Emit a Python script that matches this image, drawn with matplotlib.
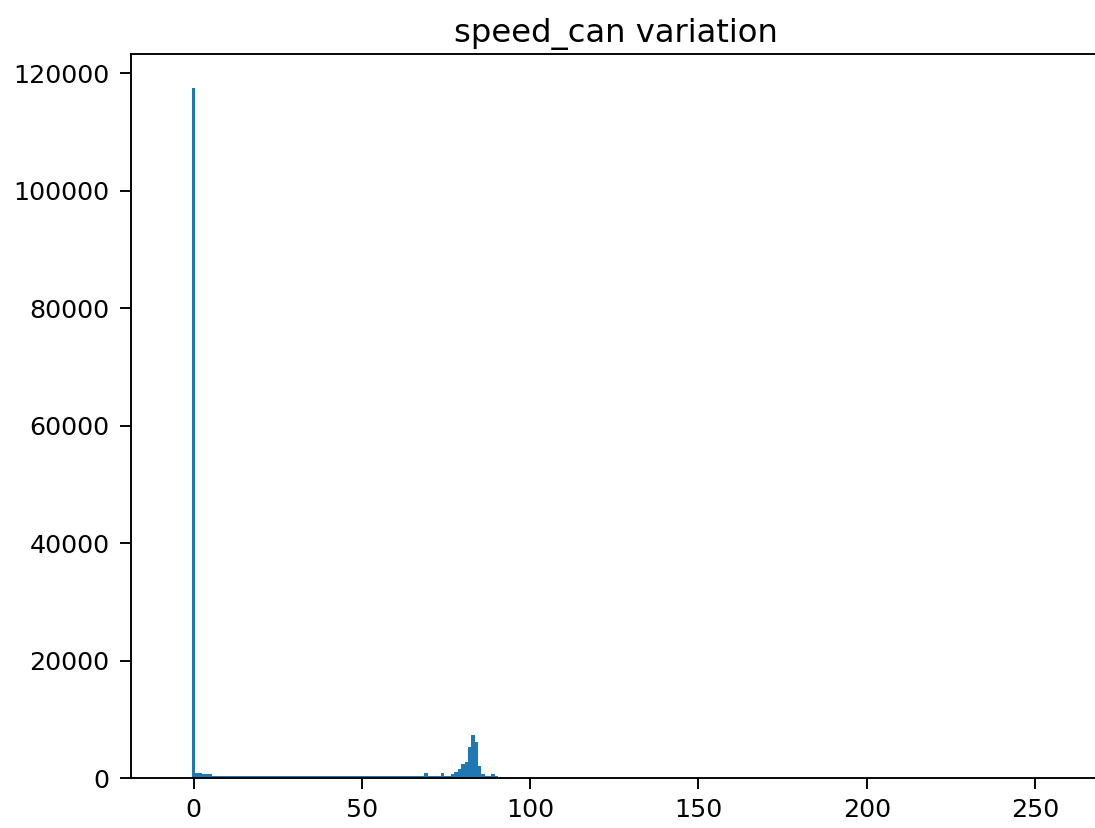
import numpy as np
import matplotlib
matplotlib.use('Agg')
import matplotlib.pyplot as plt

# speed_can histogram: one-unit bins over the full sensor range
range_lo = -5
range_hi = 256

# counts per bin (bin centre -> count), everything else is empty
bin_centres = list(range(0, 91))
counts = [
    117400, 850, 850, 700, 700, 700,
    400, 400, 400, 400, 400, 400, 400, 400, 400, 400,
    400, 400, 400, 400, 400, 400, 400, 400, 400, 400,
    400, 400, 400, 400, 400, 400, 400, 400, 400, 400,
    400, 400, 400, 400, 400, 400, 400, 400, 400, 400,
    400, 400, 400, 400, 400, 400, 400, 400, 400, 400,
    400, 400, 400, 400, 400, 400, 400, 400, 400, 400,
    400, 400, 400,
    800, 400, 400, 400, 400,
    800, 400, 400,
    600, 1100, 1550, 2400, 2700, 5200, 7400, 6100, 2100, 600,
    400, 400, 700, 350,
]

edges = np.arange(range_lo - 0.5, range_hi + 1.0, 1.0)

plt.rcParams['xtick.labelsize'] = 10.7
plt.rcParams['ytick.labelsize'] = 10.7
plt.rcParams['xtick.major.size'] = 4.5
plt.rcParams['ytick.major.size'] = 4.5
plt.rcParams['xtick.major.pad'] = 4
plt.rcParams['ytick.major.pad'] = 4.5

fig = plt.figure(figsize=(1095 / 171, 828 / 171), dpi=171)
ax = fig.add_axes([131 / 1095, 50 / 828, 970 / 1095, 724 / 828])

ax.hist(bin_centres, bins=edges, weights=counts, color='#1f77b4')
ax.set_title('speed_can variation', fontsize=13.6, pad=5)

fig.savefig('out.png', dpi=171)
